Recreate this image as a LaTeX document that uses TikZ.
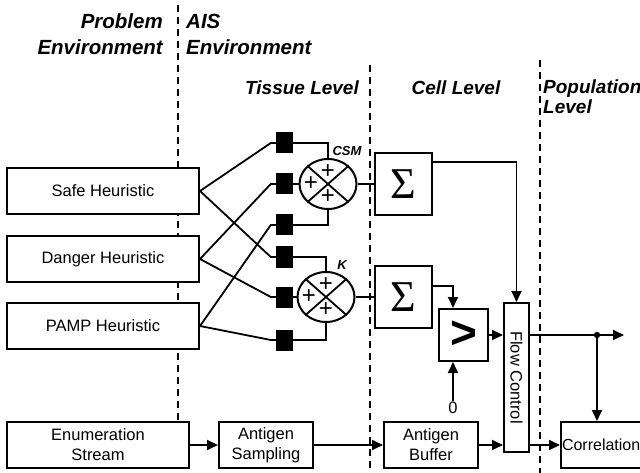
\documentclass[tikz,border=0pt]{standalone}
\usepackage{fontspec}
\setmainfont{Liberation Sans}
\newfontfamily\symserif{Liberation Serif}
\usetikzlibrary{calc}
\usetikzlibrary{arrows.meta}
\usetikzlibrary{shapes.geometric}

\begin{document}
\begin{tikzpicture}[x=1pt,y=-1pt,
  box/.style={draw, fill=white, line width=2pt, inner sep=1pt, align=center, font=\fontsize{16.5}{20}\selectfont},
  recep/.style={fill=black, minimum width=17pt, minimum height=21pt, inner sep=0pt},
  sumnode/.style={draw, fill=white, ellipse, line width=2pt, minimum width=57pt, minimum height=50pt, inner sep=0pt},
  title/.style={inner sep=0pt, font=\fontsize{20.5}{26}\selectfont\bfseries\itshape},
  lvl/.style={inner sep=0pt, font=\fontsize{19}{20}\selectfont\bfseries\itshape},
  plus/.style={inner sep=0pt, font=\fontsize{24}{24}\selectfont},
  wire/.style={line width=1.8pt},
  dashln/.style={line width=1.8pt, dash pattern=on 7pt off 5pt},
  >={Triangle[length=11pt,width=10pt]}
]
\useasboundingbox (0,0) rectangle (640,473);
\foreach \x/\y in {178/5,370/65,540/60} \draw[dashln] (\x,\y) -- (\x,473);

% headings
\node[title, align=right, anchor=east] (prob) at (163,34) {Problem\\Environment};
\node[title, align=left, anchor=west] (ais) at (186,34) {AIS\\Environment};
\node[lvl] (tissue) at (302,88) {Tissue Level};
\node[lvl] (cell) at (456,88) {Cell Level};
\node[lvl, align=left, anchor=west] (pop) at (543,97) {Population\\Level};

% signal sources
\node[box, minimum width=192pt, minimum height=46pt] (safe) at (103,191) {Safe Heuristic};
\node[box, minimum width=192pt, minimum height=46pt] (danger) at (103,259) {Danger Heuristic};
\node[box, minimum width=192pt, minimum height=46pt] (pamp) at (103,326) {PAMP Heuristic};

% receptors
\foreach \i/\y in {1/143,2/184,3/225,4/257,5/297,6/340}
  \node[recep] (sq\i) at (284.5,\y) {};
\foreach \h/\s in {safe/1,safe/4,danger/2,danger/5,pamp/3,pamp/6}
  \draw[wire] (\h.east) -- ($(sq\s.west)+(-5,0)$) -- (sq\s.west);

% weighted sums
\node[sumnode] (csm) at (328,184) {};
\node[sumnode] (kk) at (326,297) {};
\foreach \c in {csm,kk} {
  \draw[wire] (\c.north west) -- (\c.south east) (\c.north east) -- (\c.south west);
  \node[plus] (\c-t) at ($(\c)+(0,-12)$) {+};
  \node[plus] (\c-l) at ($(\c)+(-17,0)$) {+};
  \node[plus] (\c-b) at ($(\c)+(0,13)$) {+};
}
\node[font=\fontsize{13}{13}\selectfont\bfseries\itshape] (csmlbl) at (347,151) {CSM};
\node[font=\fontsize{13}{13}\selectfont\bfseries\itshape] (klbl) at (342,265) {K};
\draw[wire] (sq1.east) -| (csm.north);
\draw[wire] (sq2.east) -- (csm.west);
\draw[wire] (sq3.east) -| (csm.south);
\draw[wire] (sq4.east) -| (kk.north);
\draw[wire] (sq5.east) -- (kk.west);
\draw[wire] (sq6.east) -| (kk.south);

% cell level
\node[box, minimum width=57pt, minimum height=62pt, font=\fontsize{44}{44}\symserif] (sig1) at (403.5,184) {Σ};
\node[box, minimum width=57pt, minimum height=62pt, font=\fontsize{44}{44}\symserif] (sig2) at (403.5,297) {Σ};
\node[box, minimum width=49pt, minimum height=52pt, font=\fontsize{46}{46}\selectfont\bfseries] (cmp) at (463.5,335) {>};
\node[inner sep=1pt, font=\fontsize{16.5}{16.5}\selectfont] (zero) at (453,408) {0};
\node[box, minimum width=25pt, minimum height=149pt] (flow) at (516.5,377.5) {};
\node[rotate=-90, font=\fontsize{16.5}{16.5}\selectfont] (flowlbl) at (flow.center) {Flow Control};
\draw[wire] (csm.east) -- (sig1.west);
\draw[wire] (kk.east) -- (sig2.west);
\draw[wire,->] ($(sig1.north east)+(0,10)$) -| (flow.north);
\draw[wire,->] ($(sig2.north east)+(0,21)$) -| (zero.north |- cmp.north);
\draw[wire,->] (zero.north) -- (zero.north |- cmp.south);
\draw[wire,->] (cmp.east) -- (cmp.east -| flow.west);

% antigen path
\node[box, minimum width=182pt, minimum height=46pt] (enum) at (98,445) {Enumeration\\Stream};
\node[box, minimum width=94pt, minimum height=46pt] (samp) at (266,445) {Antigen\\Sampling};
\node[box, minimum width=94pt, minimum height=46pt] (buf) at (431,445) {Antigen\\Buffer};
\node[box, minimum width=79pt, minimum height=46pt, anchor=west, font=\fontsize{16}{20}\selectfont] (corr) at (560,445) {Correlation};
\draw[wire,->] (enum.east) -- (samp.west);
\draw[wire,->] (samp.east) -- (buf.west);
\draw[wire,->] (buf.east) -- (buf.east -| flow.west);
\draw[wire,->] (buf.east -| flow.east) -- (corr.west);

% population level
\coordinate (tap) at (597,335);
\coordinate (outp) at (624,335);
\draw[wire,->] (cmp.east -| flow.east) -- (outp);
\fill (tap) circle (3.2);
\draw[wire,->] (tap) -- (tap |- corr.north);
\end{tikzpicture}
\end{document}
